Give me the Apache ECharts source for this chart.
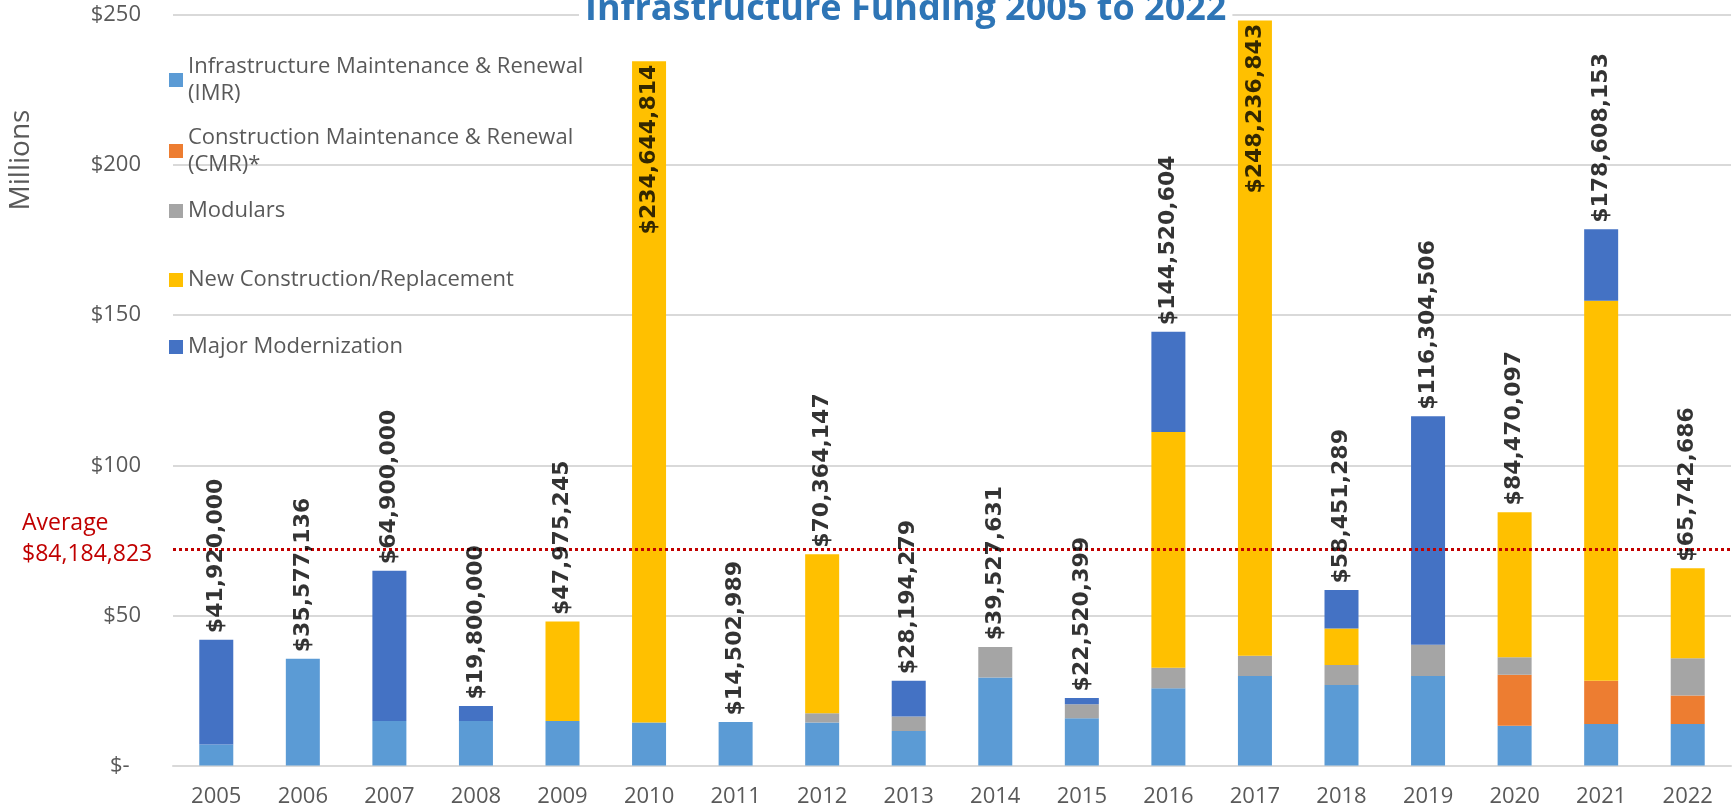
<!DOCTYPE html>
<html>
<head>
<meta charset="utf-8">
<title>Infrastructure Funding 2005 to 2022</title>
<script src="https://cdn.jsdelivr.net/npm/echarts@6/dist/echarts.min.js"></script>
<style>
  html, body { margin: 0; padding: 0; background: #fff; }
  #chart { width: 1733px; height: 811px; }
</style>
</head>
<body>
<div id="chart"></div>
<script>
// 数据（单位：百万美元），从图上读出来的
let years = ['2005','2006','2007','2008','2009','2010','2011','2012','2013','2014','2015','2016','2017','2018','2019','2020','2021','2022'];

let imr       = [7.0, 35.58, 14.8, 14.8, 14.8, 14.3, 14.5, 14.3, 11.5, 29.3, 15.7, 25.7, 29.8, 26.8, 29.8, 13.2, 13.8, 13.8];
let cmr       = [0, 0, 0, 0, 0, 0, 0, 0, 0, 0, 0, 0, 0, 0, 0, 17.0, 14.4, 9.5];
let modulars  = [0, 0, 0, 0, 0, 0, 0, 3.1, 4.8, 10.2, 4.7, 6.9, 6.8, 6.7, 10.4, 5.9, 0, 12.4];
let newConst  = [0, 0, 0, 0, 33.2, 220.3, 0, 53.0, 0, 0, 0, 78.5, 211.6, 12.1, 0, 48.3, 126.6, 30.0];
let majorMod  = [34.9, 0, 50.1, 5.0, 0, 0, 0, 0, 11.9, 0, 2.1, 33.4, 0, 12.9, 76.1, 0, 23.8, 0];

// 每年总额（柱顶标签）
let totals = [41.92, 35.577136, 64.9, 19.8, 47.975245, 234.644814, 14.502989, 70.364147, 28.194279, 39.527631,
              22.520399, 144.520604, 248.236843, 58.451289, 116.304506, 84.470097, 178.608153, 65.742686];
let totalLabels = ['$41,920,000','$35,577,136','$64,900,000','$19,800,000','$47,975,245','$234,644,814','$14,502,989',
                   '$70,364,147','$28,194,279','$39,527,631','$22,520,399','$144,520,604','$248,236,843','$58,451,289',
                   '$116,304,506','$84,470,097','$178,608,153','$65,742,686'];

let yTicks = [0, 50, 100, 150, 200, 250];
let averageLine = 72;                 // 图上红色虚线的位置
let averageText = '$84,184,823';

let seriesNames = [
  'Infrastructure Maintenance & Renewal\n(IMR)',
  'Construction Maintenance & Renewal\n(CMR)*',
  'Modulars',
  'New Construction/Replacement',
  'Major Modernization'
];
let seriesData = [imr, cmr, modulars, newConst, majorMod];
let colors = ['#5B9BD5', '#ED7D31', '#A5A5A5', '#FFC000', '#4472C4'];

let gray = '#595959';
let font = '"Open Sans", sans-serif';

// 图例：每项单独一个 legend，便于按图上位置摆放
let legendCenters = [80, 151, 211, 280, 347];
let legends = seriesNames.map(function(name, i){
  let twoLine = name.indexOf('\n') > -1;
  return {
    data: [name],
    orient: 'vertical',
    left: 169,
    top: twoLine ? legendCenters[i] - 40.5 : legendCenters[i] - 13.5,
    padding: 0,
    itemWidth: 14,
    itemHeight: 14,
    icon: 'rect',
    selectedMode: false,
    textStyle: {
      color: gray,
      fontSize: 22,
      fontFamily: font,
      lineHeight: 27,
      padding: twoLine ? [27, 0, 0, 0] : 0,
      backgroundColor: 'rgba(0,0,0,0)'
    }
  };
});

let barSeries = seriesNames.map(function(name, i){
  return {
    name: name,
    type: 'bar',
    stack: 'total',
    barWidth: 34,
    itemStyle: { color: colors[i] },
    data: seriesData[i]
  };
});

// 平均线挂在最后一个柱系列上
barSeries[4].markLine = {
  silent: true,
  symbol: 'none',
  lineStyle: { color: '#C00000', type: 'dotted', width: 3 },
  label: {
    show: true,
    position: 'start',
    distance: 6,
    formatter: '{a|Average}\n{a|' + averageText + '}\n{c| }',
    rich: {
      a: { color: '#C00000', fontSize: 23, fontFamily: font, lineHeight: 31, width: 145, align: 'left' },
      c: { fontSize: 10, lineHeight: 20, width: 145 }
    }
  },
  data: [{ yAxis: averageLine }]
};

// 柱顶总额标签：放不下的放到柱子里面
let labelSeries = {
  name: 'total',
  type: 'scatter',
  symbolSize: 1,
  itemStyle: { color: 'rgba(0,0,0,0)' },
  silent: true,
  z: 5,
  label: {
    show: true,
    position: 'top',
    distance: 6,
    rotate: 90,
    align: 'left',
    verticalAlign: 'middle',
    color: '#000',
    fontSize: 22,
    fontWeight: 'bold',
    fontFamily: '"DejaVu Sans", sans-serif',
    formatter: function(p){ return totalLabels[p.dataIndex]; }
  },
  data: totals.map(function(v){
    if (v + 55 > yTicks[yTicks.length - 1]) {
      return { value: v, label: { position: 'bottom', align: 'right', distance: 3 } };
    }
    return v;
  })
};

let option = {
  animation: false,
  backgroundColor: '#fff',
  title: {
    text: 'Infrastructure Funding 2005 to 2022',
    left: 579,
    top: -8,
    padding: [0, 6],
    backgroundColor: '#fff',
    textStyle: { color: '#2E75B6', fontSize: 36, fontWeight: 'bold', fontFamily: font }
  },
  legend: legends,
  grid: { left: 173, right: 2, top: 15, bottom: 45.5, containLabel: false },
  xAxis: {
    type: 'category',
    data: years,
    axisTick: { show: false },
    axisLine: { lineStyle: { color: '#D9D9D9', width: 2 } },
    axisLabel: { color: gray, fontSize: 22, fontFamily: font, margin: 20 }
  },
  yAxis: {
    type: 'value',
    min: yTicks[0],
    max: yTicks[yTicks.length - 1],
    interval: 50,
    axisLine: { show: false },
    axisTick: { show: false },
    splitLine: { lineStyle: { color: '#D9D9D9', width: 2 } },
    axisLabel: {
      color: gray, fontSize: 22, fontFamily: font, margin: 32,
      formatter: function(v){ return v === 0 ? '$-  ' : '$' + v; }
    }
  },
  graphic: [{
    type: 'text',
    x: 21,
    y: 160,
    rotation: Math.PI / 2,
    style: { text: 'Millions', fill: gray, font: '28px ' + font, align: 'center', verticalAlign: 'middle' }
  }],
  series: barSeries.concat([labelSeries])
};

let myChart = echarts.init(document.getElementById('chart'));
myChart.setOption(option);
</script>
</body>
</html>
